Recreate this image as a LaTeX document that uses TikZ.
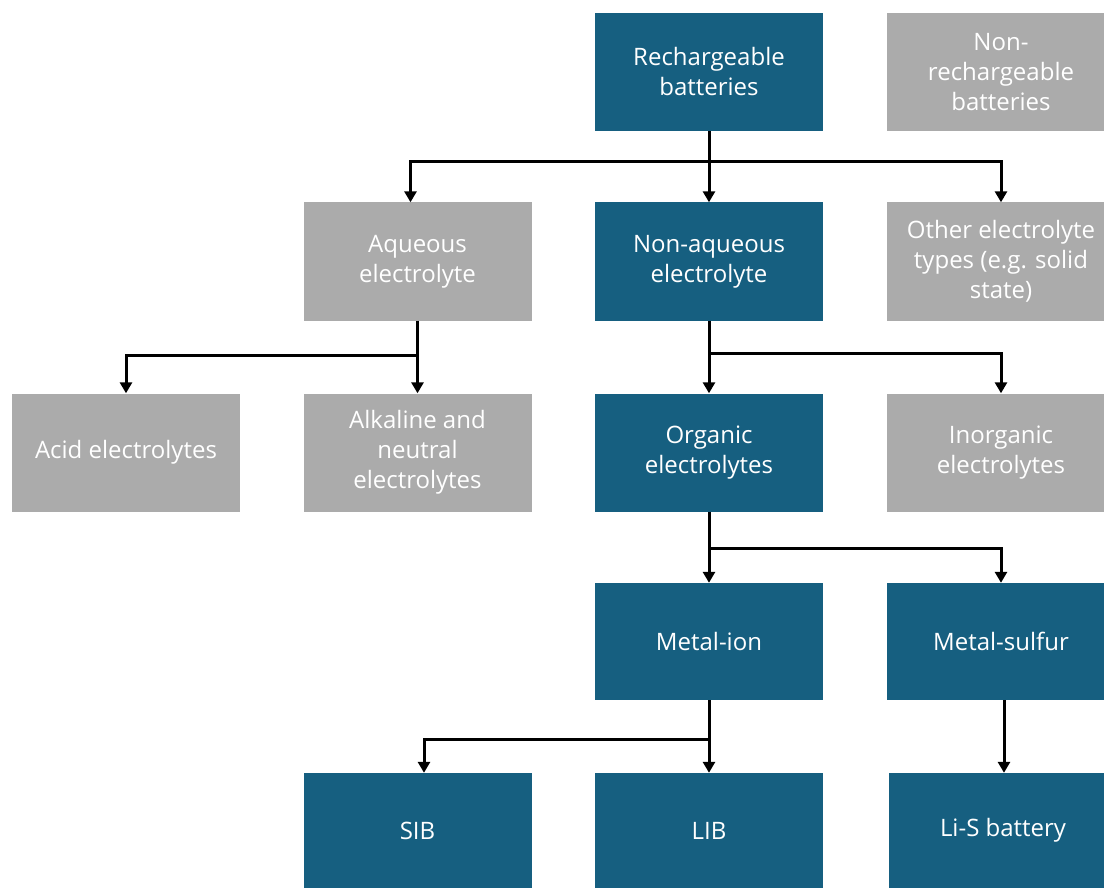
\documentclass[tikz,border=0pt]{standalone}
\usepackage{fontspec}
\setmainfont{Open Sans}
\usetikzlibrary{arrows.meta}
\definecolor{darkblue}{HTML}{165F80}
\definecolor{boxgray}{HTML}{ABABAB}

\begin{document}
\begin{tikzpicture}[x=1pt,y=-1pt,
    box/.style={fill=#1,text=white,minimum width=228pt,minimum height=118pt,
        align=center,inner sep=2pt,font=\fontsize{24}{30}\selectfont},
    box/.default=darkblue,
    conn/.style={line width=3pt},
    arr/.style={conn,-{Triangle[width=12pt,length=11pt]}}]
    \useasboundingbox (0,0) rectangle (1104,888);
    \clip (0,0) rectangle (1104,888);
    % boxes
    \node[box] (recharge) at (709,72) {Rechargeable\\batteries};
    \node[box=boxgray] (nonrecharge) at (1001,72) {Non-\\rechargeable\\batteries};
    \node[box=boxgray] (aqueous) at (417.5,261.5) {Aqueous\\electrolyte};
    \node[box] (nonaqueous) at (709,261.5) {Non-aqueous\\electrolyte};
    \node[box=boxgray] (other) at (1001,261.5) {Other electrolyte\\types (e.g. solid\\state)};
    \node[box=boxgray] (acid) at (126,452.5) {Acid electrolytes};
    \node[box=boxgray] (alkaline) at (417.5,452.5) {Alkaline and\\neutral\\electrolytes};
    \node[box] (organic) at (709,452.5) {Organic\\electrolytes};
    \node[box=boxgray] (inorganic) at (1001,452.5) {Inorganic\\electrolytes};
    \node[box,minimum height=117pt] (metalion) at (709,641.5) {Metal-ion};
    \node[box,minimum height=117pt] (metalsulfur) at (1001,641.5) {Metal-sulfur};
    \node[box,minimum height=115pt] (sib) at (417.5,830.5) {SIB};
    \node[box,minimum height=115pt] (lib) at (709,830.5) {LIB};
    \node[box,minimum height=115pt] (lis) at (1003,830.5) {Li-S battery};
    % branch points
    \coordinate (b1) at (709,162); % below rechargeable
    \coordinate (b2) at (417.5,355); % below aqueous
    \coordinate (b3) at (709,353); % below non-aqueous
    \coordinate (b4) at (709,548); % below organic
    \coordinate (b5) at (709,739); % below metal-ion
    % connectors
    \draw[conn] (recharge.south) -- (b1);
    \draw[arr] (b1) -| ([xshift=-7pt]aqueous.north);
    \draw[arr] (b1) -- (nonaqueous.north);
    \draw[arr] (b1) -| (other.north);
    \draw[conn] (aqueous.south) -- (b2);
    \draw[arr] (b2) -| (acid.north);
    \draw[arr] (b2) -- (alkaline.north);
    \draw[conn] (nonaqueous.south) -- (b3);
    \draw[arr] (b3) -- (organic.north);
    \draw[arr] (b3) -| (inorganic.north);
    \draw[conn] (organic.south) -- (b4);
    \draw[arr] (b4) -- (metalion.north);
    \draw[arr] (b4) -| (metalsulfur.north);
    \draw[conn] (metalion.south) -- (b5);
    \draw[arr] (b5) -| ([xshift=6.5pt]sib.north);
    \draw[arr] (b5) -- (lib.north);
    \draw[arr] ([xshift=3pt]metalsulfur.south) -- ([xshift=1pt]lis.north);
\end{tikzpicture}
\end{document}
